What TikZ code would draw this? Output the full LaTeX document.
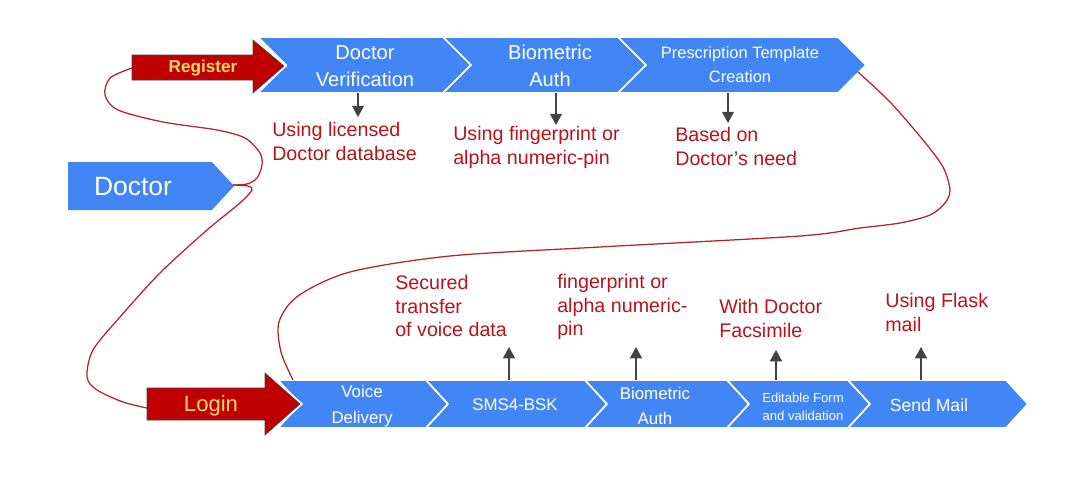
\documentclass[tikz,border=0pt]{standalone}
\usepackage{fontspec}
\setmainfont{Liberation Sans}
\usetikzlibrary{arrows.meta}
\definecolor{gblue}{HTML}{4285F4}
\definecolor{dred}{HTML}{C00000}
\definecolor{txtred}{HTML}{B5141C}
\definecolor{curvered}{HTML}{B0252A}
\definecolor{ylw}{HTML}{FFD966}
\definecolor{agray}{HTML}{434343}
\newcommand\mychev[5]{%
  \path[chev] (#1,#3) -- (#2,#3) -- ({#2+#5},{(#3+#4)/2}) -- (#2,#4) -- (#1,#4) -- ({#1+#5},{(#3+#4)/2}) -- cycle;}
\begin{document}
\begin{tikzpicture}[x=0.025cm,y=-0.025cm,
  chev/.style={fill=gblue, draw=white, line width=1.2pt, line join=miter},
  wt/.style={text=white, align=center, inner sep=0pt},
  rt/.style={text=txtred, align=left, inner sep=0pt, anchor=north west, font=\fontsize{14}{16.8}\selectfont},
  arr/.style={agray, line width=1pt, -{Triangle[width=8.5pt,length=8pt]}},
  redarrow/.style={fill=dred, draw=agray, line width=0.4pt},
  loopline/.style={curvered, line width=0.9pt}]
\useasboundingbox (0,0) rectangle (1080,487);
% top row chevrons
\mychev{258}{443}{37}{93}{28}
\mychev{443}{618}{37}{93}{28}
\mychev{618}{838}{37}{93}{28}
% bottom row chevrons
\mychev{278}{426}{380}{428}{22}
\mychev{426}{585}{380}{428}{22}
\mychev{585}{727}{380}{428}{22}
\mychev{727}{848}{380}{428}{22}
\mychev{848}{1006}{380}{428}{22}
% Doctor
\path[fill=gblue] (68,162) -- (212,162) -- (234,186) -- (212,210) -- (68,210) -- cycle;
\node[wt, font=\fontsize{18.8}{22}\selectfont] (doc) at (133,187) {Doctor};
% red arrows
\path[draw=white, line width=3pt, line join=miter] (132,55) -- (253,55) -- (253,40) -- (284,66) -- (253,93) -- (253,80) -- (132,80) -- cycle;
\path[redarrow] (132,55) -- (253,55) -- (253,40) -- (284,66) -- (253,93) -- (253,80) -- (132,80) -- cycle;
\node[inner sep=0pt, text=ylw, font=\bfseries\fontsize{12.2}{14}\selectfont] (reg) at (203,68) {Register};
\path[draw=white, line width=3pt, line join=miter] (147,388) -- (265,388) -- (265,373) -- (300,404) -- (265,435) -- (265,420) -- (147,420) -- cycle;
\path[redarrow] (147,388) -- (265,388) -- (265,373) -- (300,404) -- (265,435) -- (265,420) -- (147,420) -- cycle;
\node[inner sep=0pt, text=ylw, font=\fontsize{15.7}{18}\selectfont] (login) at (211,406) {Login};
% top chevron texts
\node[wt, font=\fontsize{14.3}{19.2}\selectfont] (dv) at (365,66) {Doctor\\Verification};
\node[wt, font=\fontsize{14.3}{19.2}\selectfont] (ba1) at (550,66) {Biometric\\Auth};
\node[wt, font=\fontsize{11.7}{17}\selectfont] (pt) at (740,65) {Prescription Template\\Creation};
% bottom chevron texts
\node[wt, font=\fontsize{12}{18.5}\selectfont] (vd) at (362,406) {Voice\\Delivery};
\node[wt, font=\fontsize{12}{14}\selectfont] (sms) at (515,405) {SMS4-BSK};
\node[wt, font=\fontsize{12}{17.5}\selectfont] (ba2) at (655,406) {Biometric\\Auth};
\node[wt, font=\fontsize{9.3}{12.5}\selectfont] (ef) at (803,407) {Editable Form\\and validation};
\node[wt, font=\fontsize{12.5}{14}\selectfont] (sm) at (929,405) {Send Mail};
% red texts
\node[rt] (t1) at (272,122) {Using licensed\\Doctor database};
\node[rt] (t2) at (453,126) {Using fingerprint or\\alpha numeric-pin};
\node[rt] (t3) at (675,127) {Based on\\Doctor’s need};
\node[rt] (b1) at (395,275) {Secured\\transfer\\of voice data};
\node[rt] (b2) at (557,274) {fingerprint or\\alpha numeric-\\pin};
\node[rt] (b3) at (719,299) {With Doctor\\Facsimile};
\node[rt] (b4) at (885,293) {Using Flask\\mail};
% arrow coordinates
\coordinate (dvs) at (358,93);  \coordinate (dve) at (358,117);
\coordinate (bas) at (556,93);  \coordinate (bae) at (556,125);
\coordinate (pts) at (728,93);  \coordinate (pte) at (728,123);
\coordinate (smss) at (509,380); \coordinate (smse) at (509,347);
\coordinate (ba2s) at (636,380); \coordinate (ba2e) at (636,347);
\coordinate (efs) at (776,380); \coordinate (efe) at (776,350);
\coordinate (sms2) at (921,380); \coordinate (sme) at (921,347);
\draw[arr] (dvs) -- (dve);
\draw[arr] (bas) -- (bae);
\draw[arr] (pts) -- (pte);
\draw[arr] (smss) -- (smse);
\draw[arr] (ba2s) -- (ba2e);
\draw[arr] (efs) -- (efe);
\draw[arr] (sms2) -- (sme);
% loop lines
\coordinate (doctip) at (233,185);
\coordinate (regend) at (132,68);
\coordinate (logend) at (147,408);
\coordinate (pttip) at (858,72);
\coordinate (vdtop) at (293,380);
\draw[loopline] plot[smooth] coordinates {(doctip) (247,184) (257,178) (262,165) (260,153) (245,138) (217,130) (163,122) (118,110) (105,95) (110,78) (regend)};
\draw[loopline] plot[smooth] coordinates {(doctip) (248,186) (252,190) (240,203) (207,230) (160,273) (120,317) (93,350) (87,377) (97,390) (123,402) (logend)};
\draw[loopline] plot[smooth] coordinates {(pttip) (890,102) (923,140) (943,167) (950,190) (945,203) (930,215) (900,223) (860,228) (800,236) (600,247) (450,256) (350,272) (298,296) (279,322) (281,352) (vdtop)};
\end{tikzpicture}
\end{document}
